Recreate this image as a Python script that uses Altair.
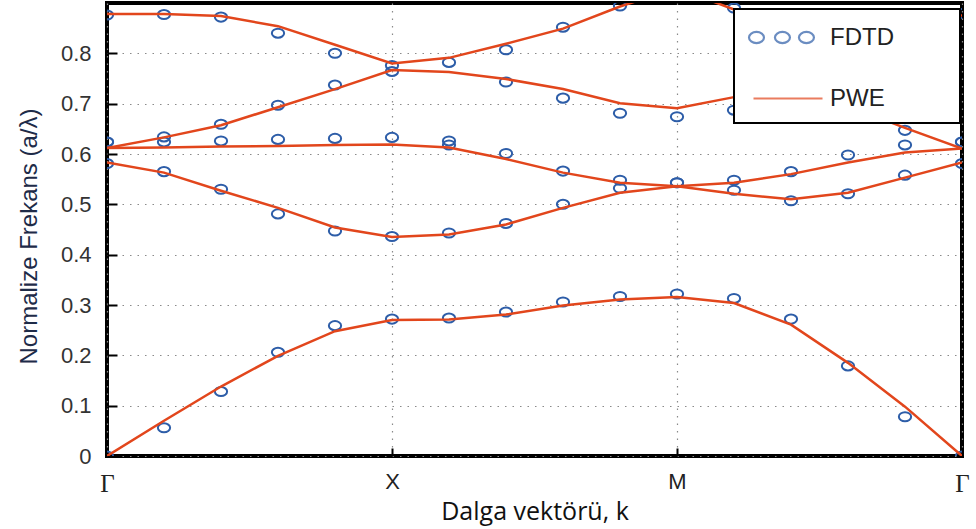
import altair as alt
import pandas as pd

# k-path sample positions (Γ=0, X=1, M=2, Γ=3)
K = [0.0, 0.2, 0.4, 0.6, 0.8, 1.0, 1.2, 1.4, 1.6, 1.8, 2.0, 2.2, 2.4, 2.6, 2.8, 3.0]
TICK_POS = [0, 1, 2, 3]
TICK_LABELS = ["Γ", "X", "M", "Γ"]

# PWE bands (lines)
PWE_1 = [0.0, 0.070, 0.138, 0.199, 0.248, 0.270, 0.271, 0.281, 0.299, 0.311, 0.316, 0.304, 0.261, 0.185, 0.098, 0.0]
PWE_2 = [0.583, 0.563, 0.527, 0.493, 0.454, 0.435, 0.440, 0.460, 0.493, 0.523, 0.536, 0.521, 0.510, 0.523, 0.553, 0.583]
PWE_3 = [0.612, 0.613, 0.615, 0.616, 0.618, 0.619, 0.613, 0.590, 0.563, 0.543, 0.536, 0.543, 0.560, 0.583, 0.603, 0.611]
PWE_4 = [0.612, 0.633, 0.657, 0.693, 0.729, 0.767, 0.763, 0.749, 0.729, 0.701, 0.691, 0.713, 0.720, 0.695, 0.652, 0.611]
PWE_5 = [0.878, 0.878, 0.874, 0.854, 0.817, 0.780, 0.791, 0.819, 0.849, 0.893, 0.930, 0.887, 0.880, 0.877, 0.876, 0.875]

# FDTD bands (circles); None = not visible
FDTD_1 = [0.0, 0.056, 0.128, 0.206, 0.259, 0.272, 0.274, 0.286, 0.306, 0.317, 0.322, 0.313, 0.272, 0.179, 0.078, 0.0]
FDTD_2 = [0.581, 0.565, 0.530, 0.481, 0.447, 0.436, 0.443, 0.462, 0.500, 0.532, 0.543, 0.528, 0.507, 0.521, 0.558, 0.581]
FDTD_3 = [0.624, 0.624, 0.626, 0.629, 0.631, 0.633, 0.618, 0.601, 0.566, 0.548, 0.543, 0.548, 0.565, 0.598, 0.618, 0.624]
FDTD_4 = [0.624, 0.634, 0.659, 0.697, 0.737, 0.764, 0.626, 0.743, 0.711, 0.681, 0.674, 0.687, None, None, 0.647, 0.624]
FDTD_5 = [0.876, 0.877, 0.872, 0.840, 0.800, 0.776, 0.782, 0.807, 0.852, 0.894, None, 0.890, None, None, None, 0.879]

SERIES = ["FDTD", "PWE"]
BLUE = "#2D5DA8"
RED = "#E2461C"

POINT_SHAPE = "M-1,0A1,0.74 0 1,0 1,0A1,0.74 0 1,0 -1,0Z"
LEG_FDTD = ("M-0.9,0A0.5,0.37 0 1,0 0.1,0A0.5,0.37 0 1,0 -0.9,0Z"
            "M0.83,0A0.5,0.37 0 1,0 1.83,0A0.5,0.37 0 1,0 0.83,0Z"
            "M2.43,0A0.5,0.37 0 1,0 3.43,0A0.5,0.37 0 1,0 2.43,0Z")
LEG_PWE = "M-0.6,0L4,0"

rows_l, rows_p = [], []
for b, (pw, fd) in enumerate(zip([PWE_1, PWE_2, PWE_3, PWE_4, PWE_5],
                                 [FDTD_1, FDTD_2, FDTD_3, FDTD_4, FDTD_5]), start=1):
    for k, v in zip(K, pw):
        rows_l.append({"k": k, "f": v, "band": b, "series": "PWE"})
    for k, v in zip(K, fd):
        if v is not None:
            rows_p.append({"k": k, "f": v, "band": b, "series": "FDTD"})
df_l = pd.DataFrame(rows_l)
df_p = pd.DataFrame(rows_p)
df_leg = pd.DataFrame({"k": [0.0, 0.0], "f": [-1.0, -1.0], "series": SERIES})

label_expr = "[" + ",".join("'" + t + "'" for t in TICK_LABELS) + "][datum.value]"
edge_test = "datum.value == 0 || datum.value == 3"

xenc = alt.X("k:Q", scale=alt.Scale(domain=[0, 3], nice=False, zero=False),
             axis=alt.Axis(values=TICK_POS, labelExpr=label_expr, title="Dalga vektörü, k",
                           grid=True, gridDash=[1.5, 6], gridColor="#8a8a8a", gridWidth=1.2,
                           domain=False, tickSize=8, offset=-8, tickColor="black", tickWidth=2,
                           labelPadding=15, labelColor="#222",
                           labelFontSize={"condition": {"test": edge_test, "value": 25}, "value": 22},
                           labelFont={"condition": {"test": edge_test, "value": "Liberation Serif"},
                                      "value": "Liberation Sans"},
                           labelFlush=False, labelOverlap=False,
                           titleFont="Open Sans", titleFontSize=25, titleFontWeight="normal",
                           titleColor="#111", titlePadding=3))
yenc = alt.Y("f:Q", scale=alt.Scale(domain=[0, 0.9], nice=False, zero=False),
             axis=alt.Axis(values=[0, 0.1, 0.2, 0.3, 0.4, 0.5, 0.6, 0.7, 0.8], format=".1~f",
                           grid=True, gridDash=[1.5, 6], gridColor="#8a8a8a", gridWidth=1.2,
                           domain=False, tickSize=10, offset=-10, tickColor="black", tickWidth=2,
                           labelPadding=16, labelFontSize=22, labelColor="#333",
                           labelFont="Liberation Sans", labelFlush=False,
                           title="Normalize Frekans (a/λ)", titleFont="Liberation Sans",
                           titleFontSize=24, titleFontWeight="normal", titleColor="#1E2B48",
                           titleX=-81, titleY=233, titleBaseline="alphabetic"))

# trailing no-break spaces (kept from trimming by a zero-width space) widen the legend box
pad = "\u00a0" * 8 + "\u200b"
LEG = alt.Legend(title=None, orient="none", legendX=627, legendY=6, fillColor="white",
                 strokeColor="black", padding=12, labelFontSize=24, labelFont="Liberation Sans",
                 labelColor="#222", labelOffset=51, rowPadding=32, symbolSize=900,
                 symbolStrokeWidth=2.2, zindex=1,
                 labelExpr="datum.label + '" + pad + "'")

cscale = alt.Scale(domain=SERIES, range=[BLUE, RED])
sscale = alt.Scale(domain=SERIES, range=[LEG_FDTD, LEG_PWE])

legend_layer = alt.Chart(df_leg).mark_point(filled=False, size=900, strokeWidth=2.2, clip=True).encode(
    x=xenc, y=yenc,
    color=alt.Color("series:N", scale=cscale, legend=LEG),
    shape=alt.Shape("series:N", scale=sscale, legend=LEG),
)

points = alt.Chart(df_p).mark_point(filled=False, shape=POINT_SHAPE, size=150, strokeWidth=2,
                                     clip=True, opacity=1).encode(
    x=xenc, y=yenc,
    color=alt.Color("series:N", scale=cscale, legend=LEG),
)

lines = alt.Chart(df_l).mark_line(strokeWidth=2.5, clip=True).encode(
    x=xenc, y=yenc,
    color=alt.Color("series:N", scale=cscale, legend=LEG),
    detail="band:N",
    order="k:Q",
)

chart = alt.layer(legend_layer, points, lines).properties(
    width=855, height=453,
    autosize=alt.AutoSizeParams(type="none"),
    padding={"left": 107, "top": 3, "right": 14, "bottom": 73},
    background="white",
).configure_view(stroke="black", strokeWidth=4).configure_legend(strokeWidth=2)

chart.save("out.html", embed_options={"renderer": "svg", "actions": False})
